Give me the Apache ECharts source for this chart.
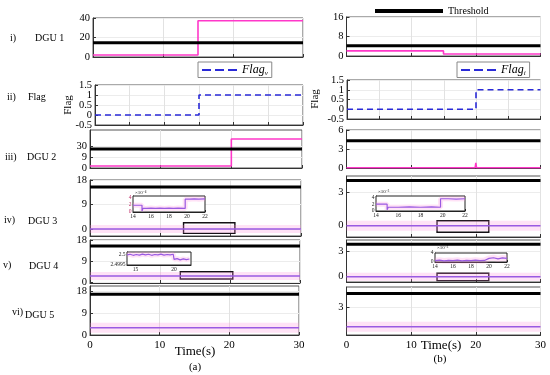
<!DOCTYPE html>
<html><head><meta charset="utf-8">
<script src="https://cdn.jsdelivr.net/npm/echarts@6/dist/echarts.min.js"></script>
<style>html,body{margin:0;padding:0;background:#fff}#c{width:550px;height:375px}</style>
</head><body><div id="c"></div>
<script>
// ---------------- DATA ----------------
const timeSpan = [0, 30];
const timeTicks = [0, 10, 20, 30];
const timeTicksFine = [0, 5, 10, 15, 20, 25, 30];

// (a) panels
const aDgu1Time = [0, 15, 30];        const aDgu1Val = [2, 37.2, 37.2];
const aFlagTime = [0, 15, 30];        const aFlagVal = [0, 1, 1];
const aDgu2Time = [0, 20, 30];        const aDgu2Val = [1.6, 23.7, 23.7];
const aDgu3Time = [0, 30];            const aDgu3Val = [0, 0];
const aDgu4Time = [0, 30];            const aDgu4Val = [2.5, 2.5];
const aDgu5Time = [0, 30];            const aDgu5Val = [3.0, 3.0];
const aThreshold = [14.7, 15.5, 15.4, 15.4, 16.6]; // DGU1..DGU5

// (b) panels
const bDgu1Time = [0, 15, 30];        const bDgu1Val = [2.1, 0.8, 0.8];
const bFlagTime = [0, 20, 30];        const bFlagVal = [0, 1, 1];
const bDgu2Time = [0, 19.9, 20, 20.1, 30]; const bDgu2Val = [0.05, 0.05, 0.8, 0.05, 0.05];
const bDgu3Time = [0, 30];            const bDgu3Val = [0, 0];
const bDgu4Time = [0, 30];            const bDgu4Val = [0, 0];
const bDgu5Time = [0, 30];            const bDgu5Val = [0.88, 0.88];
const bThreshold = [4.2, 4.3, 4.1, 3.9, 4.4];

// zoom boxes [t0,t1] / [v0,v1]
const aDgu3BoxT = [13.3, 20.6]; const aDgu3BoxV = [-1.6, 2.3];
const aDgu4BoxT = [12.9, 20.4]; const aDgu4BoxV = [1.2, 4.35];
const bDgu3BoxT = [14, 22];     const bDgu3BoxV = [-0.6, 0.45];
const bDgu4BoxT = [14, 22];     const bDgu4BoxV = [-0.48, 0.41];

// insets
const insA3Time = [14, 15, 15.1, 15.5, 16, 16.5, 17, 17.5, 18, 18.5, 19, 19.8, 20.3, 20.8, 21.3, 22];
const insA3Val  = [1.9, 0.3, 1.0, 1.1, 1.0, 1.1, 1.0, 1.1, 1.0, 1.1, 1.0, 3.6, 3.7, 3.6, 3.7, 3.6];
const insA4Time = [13.9, 14.3, 14.7, 15.1, 15.5, 15.9, 16.3, 16.7, 17.1, 17.5, 17.9, 18.3, 18.7, 19.1, 19.5, 19.9, 20.0, 20.4, 20.8, 21.2, 21.6, 22.0];
const insA4Val  = [2.49996, 2.49999, 2.49994, 2.49998, 2.49995, 2.50000, 2.49996, 2.49999, 2.49994, 2.49998, 2.49996, 2.50000, 2.49995, 2.49998, 2.49996, 2.49999, 2.49974, 2.49978, 2.49972, 2.49977, 2.49973, 2.49976];
const insB3Time = [14, 15, 15.1, 16, 17, 18, 19, 19.8, 20.5, 21.2, 22];
const insB3Val  = [2.0, 0.4, 1.1, 1.2, 1.1, 1.2, 1.1, 3.6, 3.5, 3.6, 3.6];
const insB4Time = [14, 14.5, 15, 15.5, 16, 16.5, 17, 17.5, 18, 18.5, 19, 19.5, 20, 20.5, 21, 21.5, 22];
const insB4Val  = [0.6, 0.8, 0.5, 0.7, 0.6, 0.8, 0.5, 0.7, 0.6, 0.8, 0.6, 0.7, 1.6, 1.9, 1.4, 1.8, 1.6];

// tick labels
const yTicksA = [[0, 20, 40], [-0.5, 0, 0.5, 1, 1.5], [0, 9, 18], [0, 9, 18], [0, 9, 18], [0, 9, 18]];
const aDgu2TickLabels = ['0', '9', '30'];
const yTicksB = [[0, 8, 16], [-0.5, 0, 0.5, 1, 1.5], [0, 3, 6], [0, 3], [0, 3], [3]];
const insYTicks = [[0, 2, 4], [2.4995, 2.5], [0, 2, 4], [0, 2, 4]];
const insXTicks = [[14, 16, 18, 20, 22], [15, 20], [14, 16, 18, 20, 22], [14, 16, 18, 20, 22]];
const insXRange = [[14, 22], [13.9, 22.2], [14, 22], [14, 22]];
const insExp = ['×10⁻⁴', '', '×10⁻³', '×10⁻³'];

// ---------------- STYLE / LAYOUT ----------------
const FONT = '"Liberation Serif","Times New Roman",serif';
const PINK = '#ff38c9';
const PURPLE = '#9a5ae2';
const BAND = 'rgba(255,140,220,0.25)';
const BLUE = '#2a2ad8';
const DASH_ICON = 'path://M0,0h9v2h-9z M13,0h9v2h-9z M26,0h9v2h-9z';
// [left, top, width, height]
const layout = [
  [93, 18, 210, 39], [95, 85, 208, 40], [90, 130, 212, 38], [90, 180, 211, 56], [90, 240, 210, 43], [90, 286, 209, 49],
  [346.5, 17, 194, 39], [347, 80, 193.5, 39], [346.5, 130, 194, 38], [346.5, 176, 194, 61], [346.5, 240, 194, 42], [346.5, 287, 194, 48],
  [133, 196, 72, 16], [127, 252, 64, 13], [376, 196, 89, 15], [435, 253, 72, 9]
];
const yRange = [[0, 40], [-0.5, 1.5], [0, 31], [-2.57, 18], [-0.5, 18], [0, 20],
  [0, 16], [-0.5, 1.5], [0, 6], [-1.03, 4.52], [-0.64, 4.4], [0, 5.1],
  [0, 4.5], [2.49947, 2.5001], [0, 4.4], [0, 4]];
const denseLabelPanels = [1, 2, 7]; // one label per overlay axis to avoid overlap culling

const grids = [], xAxes = [], yAxes = [], extraY = [], series = [];
layout.forEach((g, i) => {
  const inset = i >= 12;
  grids.push({left: g[0], top: g[1], width: g[2], height: g[3], show: true,
    borderColor: inset ? '#222' : '#555', borderWidth: 1, backgroundColor: '#fff', z: inset ? 5 : 0});
});

function pairs(t, v) { return t.map((x, k) => [x, v[k]]); }

// main axes
for (let i = 0; i < 12; i++) {
  const bottom = (i === 5 || i === 11);
  const fine = (i === 1 || i === 7);
  xAxes.push({type: 'value', gridIndex: i, min: timeSpan[0], max: timeSpan[1],
    axisLine: {show: true, onZero: false, lineStyle: {color: '#333'}},
    axisTick: {show: true, inside: true, length: 3, customValues: fine ? timeTicksFine : timeTicks, lineStyle: {color: '#333'}},
    axisLabel: {show: bottom, customValues: timeTicks, fontFamily: FONT, fontSize: 11, color: '#000', margin: 5,
      hideOverlap: false, showMinLabel: true, showMaxLabel: true},
    splitLine: {show: true, lineStyle: {color: '#e2e2e2'}}});
  const ticks = i < 6 ? yTicksA[i] : yTicksB[i - 6];
  const fmt = (v) => i === 2 ? aDgu2TickLabels[yTicksA[2].indexOf(v)] : String(v);
  const layers = denseLabelPanels.indexOf(i) >= 0 ? ticks.map((t) => [t]) : [ticks];
  const lab = (vals) => ({customValues: vals, fontFamily: FONT, fontSize: 10.5, color: '#000', margin: 3,
      hideOverlap: false, showMinLabel: true, showMaxLabel: true, formatter: fmt});
  yAxes.push({type: 'value', gridIndex: i, position: 'left', min: yRange[i][0], max: yRange[i][1],
    axisLine: {show: true, onZero: false, lineStyle: {color: '#333'}},
    axisTick: {show: true, inside: true, length: 3, customValues: ticks, lineStyle: {color: '#333'}},
    axisLabel: lab(layers[0]),
    splitLine: {show: true, lineStyle: {color: '#ececec'}}});
  for (let L = 1; L < layers.length; L++) {
    extraY.push({type: 'value', gridIndex: i, position: 'left', offset: 0, min: yRange[i][0], max: yRange[i][1],
      axisLine: {show: false}, axisTick: {show: false}, splitLine: {show: false}, axisLabel: lab(layers[L])});
  }
}
// inset axes
for (let k = 0; k < 4; k++) {
  const i = 12 + k;
  xAxes.push({type: 'value', gridIndex: i, min: insXRange[k][0], max: insXRange[k][1],
    axisLine: {show: true, onZero: false, lineStyle: {color: '#222'}},
    axisTick: {show: true, inside: true, length: 2, customValues: insXTicks[k]},
    axisLabel: {customValues: insXTicks[k], fontFamily: FONT, fontSize: 5.5, color: '#222', margin: 2,
      hideOverlap: false, showMinLabel: true, showMaxLabel: true},
    splitLine: {show: false}});
  yAxes.push({type: 'value', gridIndex: i, position: 'left', min: yRange[i][0], max: yRange[i][1],
    name: insExp[k], nameLocation: 'end', nameGap: 1,
    nameTextStyle: {fontFamily: FONT, fontSize: 5, color: '#222', align: 'left', padding: [0, 0, 0, 2]},
    axisLine: {show: true, onZero: false, lineStyle: {color: '#222'}},
    axisTick: {show: true, inside: true, length: 2, customValues: insYTicks[k]},
    axisLabel: {customValues: insYTicks[k], fontFamily: FONT, fontSize: 5.5, color: k === 0 ? '#c0306a' : '#222', margin: 1.5,
      hideOverlap: false, showMinLabel: true, showMaxLabel: true,
      formatter: (v) => String(Math.round(v * 10000) / 10000)},
    splitLine: {show: false}});
}

function line(i, t, v, color, width, opts) {
  return Object.assign({type: 'line', xAxisIndex: i, yAxisIndex: i, data: pairs(t, v), symbol: 'none',
    lineStyle: {color: color, width: width}, itemStyle: {color: color}, silent: true, animation: false, z: i >= 12 ? 6 : 3}, opts || {});
}
function threshold(i, val) {
  return line(i, timeSpan, [val, val], '#000', 3, {name: 'Threshold', z: 4});
}
function band(i, t, v, w, step) {
  return line(i, t, v, BAND, w, {z: i >= 12 ? 6 : 2, step: step});
}
function boxArea(t, v) {
  return {silent: true, itemStyle: {color: 'rgba(0,0,0,0)', borderColor: '#151015', borderWidth: 1.4},
    data: [[{coord: [t[0], v[0]]}, {coord: [t[1], v[1]]}]]};
}

// (a)
series.push(line(0, aDgu1Time, aDgu1Val, PINK, 1.6, {step: 'end'}));
series.push(threshold(0, aThreshold[0]));
series.push(line(1, aFlagTime, aFlagVal, BLUE, 1.6, {step: 'end', name: 'Flag_v', lineStyle: {color: BLUE, width: 1.6, type: [6, 4]}}));
series.push(line(2, aDgu2Time, aDgu2Val, PINK, 1.6, {step: 'end'}));
series.push(threshold(2, aThreshold[1]));
series.push(band(3, aDgu3Time, aDgu3Val, 8));
series.push(line(3, aDgu3Time, aDgu3Val, PURPLE, 1.5, {markArea: boxArea(aDgu3BoxT, aDgu3BoxV)}));
series.push(threshold(3, aThreshold[2]));
series.push(band(4, aDgu4Time, aDgu4Val, 8));
series.push(line(4, aDgu4Time, aDgu4Val, PURPLE, 1.5, {markArea: boxArea(aDgu4BoxT, aDgu4BoxV)}));
series.push(threshold(4, aThreshold[3]));
series.push(band(5, aDgu5Time, aDgu5Val, 10));
series.push(line(5, aDgu5Time, aDgu5Val, PURPLE, 1.5));
series.push(threshold(5, aThreshold[4]));
// (b)
series.push(line(6, bDgu1Time, bDgu1Val, PINK, 1.6, {step: 'end'}));
series.push(threshold(6, bThreshold[0]));
series.push(line(7, bFlagTime, bFlagVal, BLUE, 1.6, {step: 'end', name: 'Flag_i', lineStyle: {color: BLUE, width: 1.6, type: [6, 4]}}));
series.push(line(8, bDgu2Time, bDgu2Val, PINK, 1.6));
series.push(threshold(8, bThreshold[1]));
series.push(band(9, bDgu3Time, bDgu3Val, 10));
series.push(line(9, bDgu3Time, bDgu3Val, PURPLE, 1.5, {markArea: boxArea(bDgu3BoxT, bDgu3BoxV)}));
series.push(threshold(9, bThreshold[2]));
series.push(band(10, bDgu4Time, bDgu4Val, 8));
series.push(line(10, bDgu4Time, bDgu4Val, PURPLE, 1.5, {markArea: boxArea(bDgu4BoxT, bDgu4BoxV)}));
series.push(threshold(10, bThreshold[3]));
series.push(band(11, bDgu5Time, bDgu5Val, 10));
series.push(line(11, bDgu5Time, bDgu5Val, PURPLE, 1.5));
series.push(threshold(11, bThreshold[4]));
// insets
series.push(band(12, insA3Time, insA3Val, 5, 'end'));
series.push(line(12, insA3Time, insA3Val, PURPLE, 1.2, {step: 'end'}));
series.push(band(13, insA4Time, insA4Val, 5));
series.push(line(13, insA4Time, insA4Val, PURPLE, 1.2));
series.push(band(14, insB3Time, insB3Val, 5, 'end'));
series.push(line(14, insB3Time, insB3Val, PURPLE, 1.2, {step: 'end'}));
series.push(band(15, insB4Time, insB4Val, 6));
series.push(line(15, insB4Time, insB4Val, PURPLE, 1.2));

const flagRich = {
  a: {fontFamily: FONT, fontStyle: 'italic', fontSize: 12, color: '#000'},
  b: {fontFamily: FONT, fontStyle: 'italic', fontSize: 7, color: '#000', padding: [6, 0, 0, 0]}
};
const legends = [
  {data: ['Threshold'], left: 370, top: 1, icon: 'rect', itemWidth: 68, itemHeight: 4,
    itemStyle: {color: '#000'}, textStyle: {fontFamily: FONT, fontSize: 10, color: '#000'}, selectedMode: false},
  {data: [{name: 'Flag_v', icon: DASH_ICON}], left: 198, top: 62, itemWidth: 35, itemHeight: 2, padding: [2, 4, 1, 4],
    borderColor: '#888', borderWidth: 1, backgroundColor: '#fff', selectedMode: false, itemStyle: {color: BLUE},
    formatter: () => '{a|Flag}{b|v}', textStyle: {rich: flagRich}},
  {data: [{name: 'Flag_i', icon: DASH_ICON}], left: 457, top: 62, itemWidth: 35, itemHeight: 2, padding: [2, 4, 1, 4],
    borderColor: '#888', borderWidth: 1, backgroundColor: '#fff', selectedMode: false, itemStyle: {color: BLUE},
    formatter: () => '{a|Flag}{b|i}', textStyle: {rich: flagRich}}
];

function txt(s, x, y, size, align, rot) {
  return {type: 'text', x: x, y: y, rotation: rot || 0, silent: true,
    style: {text: s, fontFamily: FONT, fontSize: size, fill: '#000', align: align || 'left', verticalAlign: 'middle'}};
}
const graphics = [
  txt('i)', 10, 38, 10), txt('DGU 1', 35, 38, 10),
  txt('ii)', 7, 97, 10), txt('Flag', 28, 97, 10),
  txt('iii)', 5, 157, 10), txt('DGU 2', 27, 157, 10),
  txt('iv)', 4, 220, 10), txt('DGU 3', 28, 221, 10),
  txt('v)', 3, 265, 10), txt('DGU 4', 29, 266, 10),
  txt('vi)', 12, 312, 10), txt('DGU 5', 25, 315, 10),
  txt('Flag', 68, 105, 11, 'center', Math.PI / 2),
  txt('Flag', 315, 99, 11, 'center', Math.PI / 2),
  txt('Time(s)', 195, 352, 13, 'center'), txt('(a)', 195, 367, 11, 'center'),
  txt('Time(s)', 441, 346, 13, 'center'), txt('(b)', 440, 359, 11, 'center')
];

const chart = echarts.init(document.getElementById('c'), null, {renderer: 'canvas'});
chart.setOption({
  animation: false,
  backgroundColor: '#fff',
  grid: grids, xAxis: xAxes, yAxis: yAxes.concat(extraY), series: series,
  legend: legends, graphic: graphics
});
</script></body></html>
